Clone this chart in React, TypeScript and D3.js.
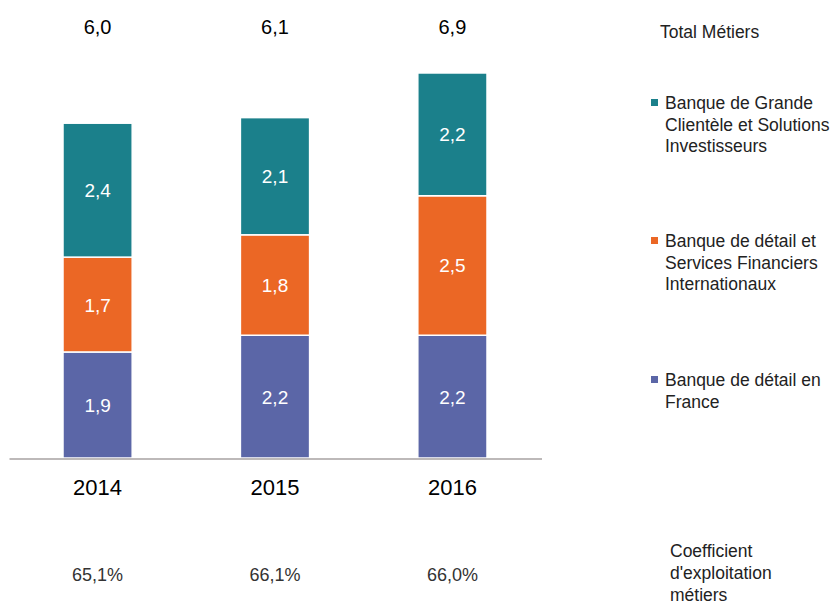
import React from 'react'
import * as d3 from 'd3'

const years = ['2014', '2015', '2016']
const franceValues = [1.9, 2.2, 2.2]
const internationalValues = [1.7, 1.8, 2.5]
const grandeClienteleValues = [2.4, 2.1, 2.2]
const totalLabels = ['6,0', '6,1', '6,9']
const ratioLabels = ['65,1%', '66,1%', '66,0%']

const seriesNames = [
  ['Banque de détail en', 'France'],
  ['Banque de détail et', 'Services Financiers', 'Internationaux'],
  ['Banque de Grande', 'Clientèle et Solutions', 'Investisseurs'],
]
const seriesColors = ['#5b66a7', '#eb6725', '#1b808b']

const fmt = (v: number) => v.toFixed(1).replace('.', ',')

export default function App() {
  const width = 833,
    height = 604

  const rows = years.map((year, i) => ({
    year,
    s0: franceValues[i],
    s1: internationalValues[i],
    s2: grandeClienteleValues[i],
  }))

  const stack = d3.stack<any>().keys(['s0', 's1', 's2'])
  const series = stack(rows)

  const xScale = d3.scaleBand()
    .domain(years)
    .range([63, 487])
    .paddingInner(0.61)
    .paddingOuter(0)

  const yScale = d3.scaleLinear()
    .domain([0, 7])
    .range([458, 458 - 7 * 55.8])

  const font = '"Liberation Sans", Arial, Helvetica, sans-serif'
  const legendX = 665
  const legendTops = [386, 247, 109]

  return (
    <div style={{position: 'absolute', left: 0, top: 0}}>
      <svg width={width} height={height} style={{display: 'block', fontFamily: font}}>
        <rect width={width} height={height} fill="#fff" />

        {series.map((s, si) => (
          <g key={si}>
            {s.map((d, i) => {
              const x = xScale(years[i]) as number
              const y0 = yScale(d[0])
              const y1 = yScale(d[1])
              return (
                <g key={i}>
                  <rect
                    x={x}
                    y={y1}
                    width={xScale.bandwidth()}
                    height={y0 - y1}
                    fill={seriesColors[si]}
                    stroke="#fff"
                    strokeWidth={1.5}
                  />
                  <text
                    x={x + xScale.bandwidth() / 2}
                    y={(y0 + y1) / 2 + 7}
                    textAnchor="middle"
                    fill="#fff"
                    fontSize={19}
                  >
                    {fmt(d[1] - d[0])}
                  </text>
                </g>
              )
            })}
          </g>
        ))}

        <line x1={9.5} x2={542} y1={459} y2={459} stroke="#bdb9b9" strokeWidth={2} />

        {years.map((year, i) => {
          const cx = (xScale(year) as number) + xScale.bandwidth() / 2
          return (
            <g key={year}>
              <text x={cx} y={34} textAnchor="middle" fontSize={20} fill="#000">
                {totalLabels[i]}
              </text>
              <text x={cx} y={495} textAnchor="middle" fontSize={22} fill="#000">
                {year}
              </text>
              <text x={cx} y={581} textAnchor="middle" fontSize={18} fill="#333">
                {ratioLabels[i]}
              </text>
            </g>
          )
        })}

        <text x={660} y={38} fontSize={17.5} fill="#222">Total Métiers</text>

        {seriesNames.map((lines, si) => (
          <g key={si}>
            <rect
              x={651}
              y={legendTops[si] - 10}
              width={7}
              height={7}
              fill={seriesColors[si]}
            />
            {lines.map((line, li) => (
              <text key={li} x={legendX} y={legendTops[si] + li * 21.5} fontSize={17.5} fill="#222">
                {line}
              </text>
            ))}
          </g>
        ))}

        {['Coefficient', "d'exploitation", 'métiers'].map((line, li) => (
          <text key={li} x={670} y={557 + li * 22} fontSize={17.5} fill="#222">
            {line}
          </text>
        ))}
      </svg>
    </div>
  )
}
